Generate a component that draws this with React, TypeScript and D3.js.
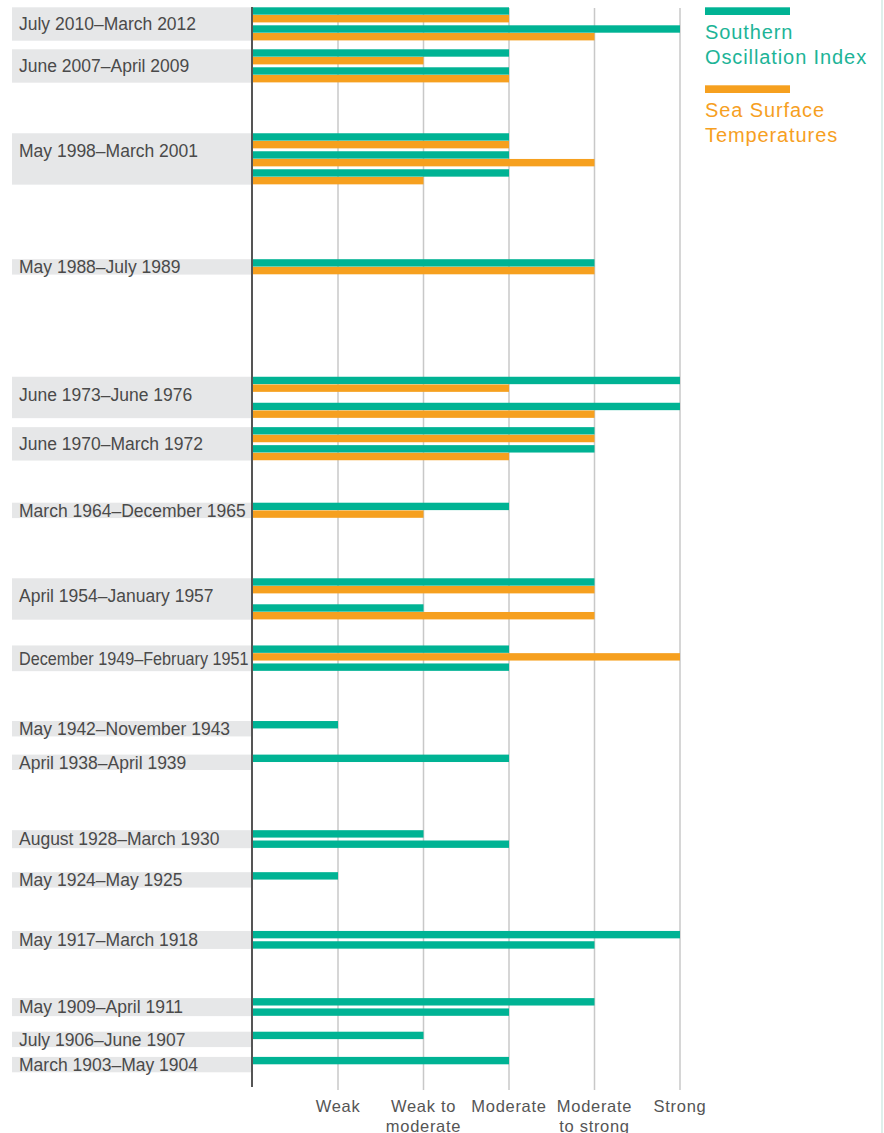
import * as React from 'react';
import * as d3 from 'd3';

// La Niña events, newest first. One entry per season inside each event;
// null means no bar for that series (both null = an empty season slot).
const eventLabels = [
  'July 2010–March 2012',
  'June 2007–April 2009',
  'May 1998–March 2001',
  'May 1988–July 1989',
  'June 1973–June 1976',
  'June 1970–March 1972',
  'March 1964–December 1965',
  'April 1954–January 1957',
  'December 1949–February 1951',
  'May 1942–November 1943',
  'April 1938–April 1939',
  'August 1928–March 1930',
  'May 1924–May 1925',
  'May 1917–March 1918',
  'May 1909–April 1911',
  'July 1906–June 1907',
  'March 1903–May 1904',
];

// strength: 1 weak, 2 weak to moderate, 3 moderate, 4 moderate to strong, 5 strong
const soiValues: (number | null)[][] = [
  [3, 5], [3, 3], [3, 3, 3], [4], [5, null, 5], [4, 4], [3], [4, null, 2], [3, 3],
  [1], [3], [2, 3], [1], [5, 4], [4, 3], [2], [3],
];
const sstValues: (number | null)[][] = [
  [3, 4], [2, 3], [3, 4, 2], [4], [3, null, 4], [4, 3], [2], [4, null, 4], [5, null],
  [null], [null], [null, null], [null], [null, null], [null, null], [null], [null],
];

const strengthLabels = [['Weak'], ['Weak to', 'moderate'], ['Moderate'], ['Moderate', 'to strong'], ['Strong']];
const seriesNames = [['Southern', 'Oscillation Index'], ['Sea Surface', 'Temperatures']];

const months = ['January', 'February', 'March', 'April', 'May', 'June', 'July', 'August', 'September', 'October', 'November', 'December'];
const parseDate = (s: string) => {
  const [m, y] = s.trim().split(' ');
  return +y + months.indexOf(m) / 12;
};

const TEAL = '#00b394';
const ORANGE = '#f6a01f';
const FONT = 'Liberation Sans, Arial, sans-serif';

export default function App() {
  const ref = React.useRef<SVGSVGElement | null>(null);

  React.useEffect(() => {
    if (!ref.current) return;
    const svg = d3.select(ref.current);
    svg.selectAll('*').remove();

    const height = 1133;
    const bar = 7.7;
    const seasonGap = 2.6;
    const emptySeason = 5.4;

    const x = d3.scaleLinear().domain([0, 5]).range([252.5, 680]);

    const events = eventLabels.map((label, i) => {
      const [from, to] = label.split('–');
      const rows: { key: string; value: number; y: number }[] = [];
      let h = 0;
      let units = 0; // vertical slots: one per bar, one per empty season
      soiValues[i].forEach((soi, j) => {
        const sst = sstValues[i][j];
        if (j) h += seasonGap;
        if (soi == null && sst == null) { h += emptySeason; units += 1; return; }
        if (soi != null) { rows.push({ key: 'soi', value: soi, y: h }); h += bar; units += 1; }
        if (sst != null) { rows.push({ key: 'sst', value: sst, y: h }); h += bar; units += 1; }
      });
      return { label, start: parseDate(from), end: parseDate(to), rows, units, height: Math.max(h, 2 * bar), top: 0 };
    });

    // each quiet season between events takes one slot too
    let acc = 0;
    const offsets = events.map((e, i) => {
      if (i) acc += events[i - 1].units + Math.round(events[i - 1].start - e.end);
      return acc;
    });
    const y = d3.scaleLinear().domain([0, acc]).range([7.3, 1056.9]);
    events.forEach((e, i) => { e.top = y(offsets[i]); });

    // grey label bands
    svg.append('g').selectAll('rect').data(events).join('rect')
      .attr('x', 12).attr('y', d => d.top)
      .attr('width', x(0) - 12).attr('height', d => d.height)
      .attr('fill', '#e6e7e8');

    const maxLabel = x(0) - 19 - 4;
    svg.append('g').selectAll('text').data(events).join('text')
      .attr('x', 19)
      .attr('y', d => d.top + Math.min(17.5, d.height / 2) + 6.3)
      .attr('font-family', FONT)
      .attr('font-size', 17.5)
      .attr('fill', '#4a4a4a')
      .text(d => d.label)
      .each(function () {
        const t = this as SVGTextElement;
        if (t.getComputedTextLength() > maxLabel) {
          t.setAttribute('textLength', String(maxLabel));
          t.setAttribute('lengthAdjust', 'spacingAndGlyphs');
        }
      });

    // grid
    svg.append('g').selectAll('line').data(d3.range(1, 6)).join('line')
      .attr('x1', d => x(d)).attr('x2', d => x(d))
      .attr('y1', 8).attr('y2', 1090)
      .attr('stroke', '#c8c8c8').attr('stroke-width', 1.5);

    // bars
    const rows = events.flatMap(e => e.rows.map(r => ({ ...r, y: e.top + r.y })));
    svg.append('g').selectAll('rect').data(rows).join('rect')
      .attr('x', x(0) + 0.5).attr('y', d => d.y)
      .attr('width', d => x(d.value) - x(0) - 0.5).attr('height', bar - 0.3)
      .attr('fill', d => (d.key === 'soi' ? TEAL : ORANGE));

    // axis line
    svg.append('line')
      .attr('x1', x(0) - 0.5).attr('x2', x(0) - 0.5)
      .attr('y1', 7).attr('y2', 1087)
      .attr('stroke', '#555').attr('stroke-width', 2);

    // strength labels
    const tl = svg.append('g').selectAll('text').data(strengthLabels).join('text')
      .attr('text-anchor', 'middle')
      .attr('font-family', FONT)
      .attr('font-size', 16.5)
      .attr('letter-spacing', 0.7)
      .attr('fill', '#555');
    tl.selectAll('tspan').data((d, i) => d.map(t => ({ t, i }))).join('tspan')
      .attr('x', d => x(d.i + 1))
      .attr('y', (d, j) => 1111.5 + j * 20)
      .text(d => d.t);

    // legend
    const lg = svg.append('g').selectAll('g').data(seriesNames).join('g')
      .attr('transform', (d, i) => `translate(705,${7.3 + i * 78})`);
    lg.append('rect').attr('width', 85).attr('height', bar)
      .attr('fill', (d, i) => (i ? ORANGE : TEAL));
    lg.append('text')
      .attr('font-family', FONT)
      .attr('font-size', 20)
      .attr('letter-spacing', 0.9)
      .attr('fill', (d, i) => (i ? ORANGE : '#1db497'))
      .selectAll('tspan').data(d => d).join('tspan')
      .attr('x', 0).attr('y', (d, j) => 31.5 + j * 25)
      .text(d => d);

    // right frame edge
    svg.append('line')
      .attr('x1', 882).attr('x2', 882).attr('y1', 0).attr('y2', height)
      .attr('stroke', '#d3ebe5').attr('stroke-width', 1.5);
  }, []);

  return (
    <svg ref={ref} width={884} height={1133} viewBox="0 0 884 1133"
      style={{ position: 'absolute', left: 0, top: 0, background: '#fff' }} />
  );
}
